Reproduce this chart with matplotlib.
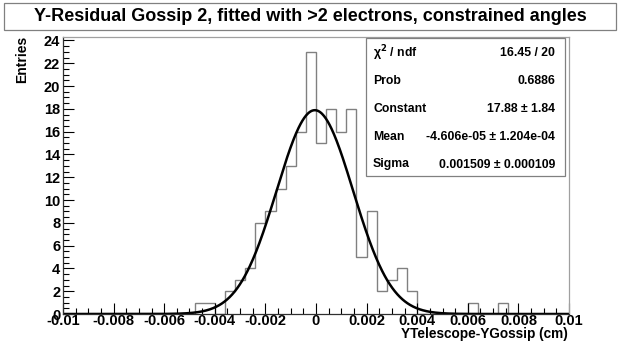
import numpy as np
import matplotlib
matplotlib.use("Agg")
import matplotlib.pyplot as plt
from matplotlib.ticker import MultipleLocator, FuncFormatter

plt.rcParams['font.family'] = ['Liberation Sans', 'DejaVu Sans']
plt.rcParams['font.weight'] = 'bold'

# histogram: 50 bins of 0.0004 cm from -0.01 to 0.01
edges = np.linspace(-0.01, 0.01, 51)
counts = [0, 0, 0, 0, 0, 0, 0, 0, 0, 0,
          0, 0, 0, 1, 1, 0, 2, 3, 4, 8,
          9, 11, 13, 16, 23, 15, 18, 16, 18, 5,
          9, 2, 3, 4, 2, 0, 0, 0, 0, 0,
          1, 0, 0, 1, 0, 0, 0, 0, 0, 0]

# gaussian fit parameters (from the stats box)
fit_const = 17.88
fit_mean = -4.606e-05
fit_sigma = 0.001509

stat_names = ["\u03c7$^2$ / ndf", "Prob", "Constant", "Mean", "Sigma"]
stat_values = ["16.45 / 20", "0.6886", "17.88 \u00b1 1.84",
               "-4.606e-05 \u00b1 1.204e-04", "0.001509 \u00b1 0.000109"]

title = "Y-Residual Gossip 2, fitted with >2 electrons, constrained angles"

fig = plt.figure(figsize=(6.2, 3.41), dpi=100)
ax = fig.add_axes([63/620, 1 - 314/341, (569-63)/620, (314-37)/341])

ax.stairs(counts, edges, color='#808080', lw=1.0)
xf = np.linspace(-0.01, 0.01, 800)
yf = fit_const * np.exp(-0.5 * ((xf - fit_mean) / fit_sigma) ** 2)
ax.plot(xf, yf, color='black', lw=1.8)

ax.set_xlim(-0.01, 0.01)
ax.set_ylim(0, 24.3)

ax.xaxis.set_major_locator(MultipleLocator(0.002))
ax.xaxis.set_minor_locator(MultipleLocator(0.0005))
ax.yaxis.set_major_locator(MultipleLocator(2))
ax.yaxis.set_minor_locator(MultipleLocator(0.5))

def fmt_x(v, pos):
    if abs(v) < 1e-12:
        return "0"
    return ("%.3f" % v).rstrip('0')

ax.xaxis.set_major_formatter(FuncFormatter(fmt_x))
ax.tick_params(which='both', direction='in', top=False, right=False,
               labelsize=10.5, colors='black', pad=2)
ax.tick_params(which='major', length=8, width=0.8)
ax.tick_params(which='minor', length=4, width=0.8)
ax.tick_params(axis='x', pad=0)
for lab in ax.get_xticklabels() + ax.get_yticklabels():
    lab.set_fontweight('bold')

for s in ['top', 'right']:
    ax.spines[s].set_color('#a0a0a0')
for s in ['bottom', 'left']:
    ax.spines[s].set_color('#303030')
for s in ax.spines.values():
    s.set_linewidth(0.9)

fig.text(568/620, 1 - 341/341, "YTelescope-YGossip (cm)", ha='right', va='bottom',
         fontsize=9.8, fontweight='bold')
fig.text(22/620, 1 - 36/341, "Entries", ha='center', va='top', rotation=90,
         fontsize=10, fontweight='bold')

# title box
fig.patches.append(plt.Rectangle((4/620, 1 - 30/341), 612/620, 27/341,
                                 transform=fig.transFigure, fill=True,
                                 facecolor='white', edgecolor='#808080', lw=0.9))
fig.text(310/620, 1 - 16.5/341, title, ha='center', va='center',
         fontsize=13, fontweight='bold')

# stats box
fig.patches.append(plt.Rectangle((366/620, 1 - 176/341), (565-366)/620, (176-38)/341,
                                 transform=fig.transFigure, fill=True,
                                 facecolor='white', edgecolor='#808080', lw=0.9,
                                 zorder=5))
row_y = [53, 81.5, 109.5, 137.5, 164.5]
for name, val, yy in zip(stat_names, stat_values, row_y):
    fig.text(373/620, 1 - yy/341, name, ha='left', va='center', fontsize=8.8,
             fontweight='bold', zorder=6)
    fig.text(555/620, 1 - yy/341, val, ha='right', va='center', fontsize=8.8,
             fontweight='bold', zorder=6)

fig.savefig("out.png", dpi=100)
